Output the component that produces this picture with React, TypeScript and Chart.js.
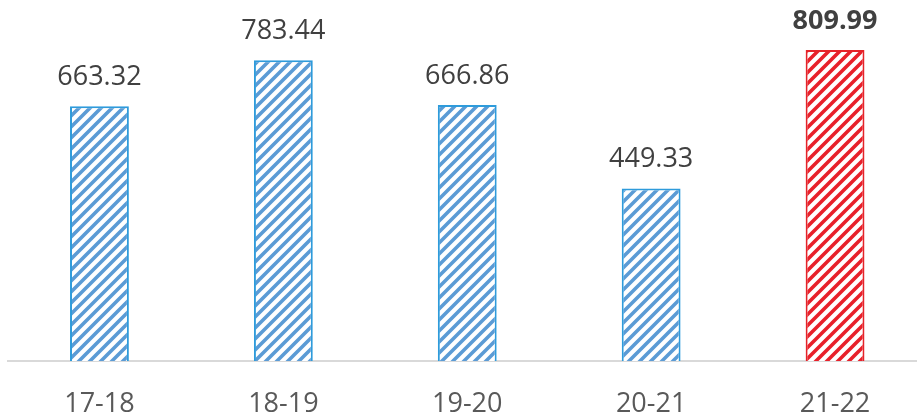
import React, { useEffect, useRef } from "react";
import { Chart, registerables } from "chart.js";

Chart.register(...registerables);

const categories = ["17-18", "18-19", "19-20", "20-21", "21-22"];
const values = [663.32, 783.44, 666.86, 449.33, 809.99];
const highlighted = [false, false, false, false, true];

function makePattern(color: string): CanvasPattern | string {
  const size = 11;
  const c = document.createElement("canvas");
  c.width = size;
  c.height = size;
  const ctx = c.getContext("2d");
  if (!ctx) return color;
  ctx.fillStyle = "#ffffff";
  ctx.fillRect(0, 0, size, size);
  ctx.strokeStyle = color;
  ctx.lineWidth = 3.6;
  ctx.lineCap = "square";
  for (const off of [-size, 0, size]) {
    ctx.beginPath();
    ctx.moveTo(off, size);
    ctx.lineTo(off + size, 0);
    ctx.stroke();
  }
  const p = ctx.createPattern(c, "repeat");
  return p || color;
}

const valueLabels = {
  id: "valueLabels",
  afterDatasetsDraw(chart: any) {
    const ctx = chart.ctx;
    const meta = chart.getDatasetMeta(0);
    ctx.save();
    ctx.textAlign = "center";
    ctx.textBaseline = "middle";
    meta.data.forEach((bar: any, i: number) => {
      const bold = highlighted[i];
      ctx.font = `${bold ? "bold " : ""}27px "Open Sans", sans-serif`;
      ctx.fillStyle = "#404040";
      ctx.fillText(values[i].toFixed(2), bar.x, bar.y - 29);
    });
    ctx.restore();
  },
};

export default function App() {
  const ref = useRef<HTMLCanvasElement>(null);
  useEffect(() => {
    if (!ref.current) return;
    const blue = makePattern("#5B9BD5");
    const red = makePattern("#E8202A");
    const chart = new Chart(ref.current, {
      type: "bar",
      data: {
        labels: categories,
        datasets: [
          {
            data: values,
            backgroundColor: highlighted.map((h) => (h ? red : blue)),
            borderColor: highlighted.map((h) => (h ? "#E52329" : "#2E9BDB")),
            borderWidth: 2,
            barPercentage: 0.64,
            categoryPercentage: 0.5,
          },
        ],
      },
      options: {
        responsive: false,
        animation: false,
        layout: { padding: { left: 7.5, right: 0, top: 0, bottom: 0 } },
        plugins: { legend: { display: false }, tooltip: { enabled: false } },
        scales: {
          y: { display: false, min: 0, max: 940 },
          x: {
            grid: { display: false, drawTicks: false },
            border: { display: true, color: "#D9D9D9", width: 2 },
            ticks: {
              color: "#595959",
              padding: 27,
              font: { family: '"Open Sans", sans-serif', size: 27 },
            },
            afterFit: (scale: any) => {
              scale.height = 59;
            },
          },
        },
      },
      plugins: [valueLabels],
    });
    return () => chart.destroy();
  }, []);
  return (
    <div
      style={{
        position: "absolute",
        left: 0,
        top: 0,
        width: 917,
        height: 420,
        overflow: "hidden",
        background: "#fff",
      }}
    >
      <canvas ref={ref} width={927} height={420} style={{ display: "block" }} />
    </div>
  );
}
